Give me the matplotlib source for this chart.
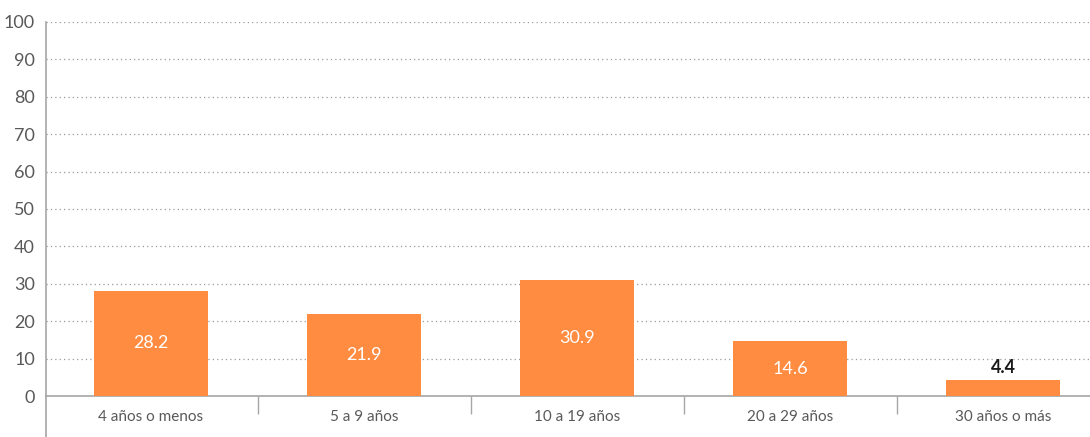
import matplotlib
matplotlib.use("Agg")
import matplotlib.pyplot as plt
from matplotlib.lines import Line2D

categories = ["4 años o menos", "5 a 9 años", "10 a 19 años", "20 a 29 años", "30 años o más"]
values = [28.2, 21.9, 30.9, 14.6, 4.4]
y_ticks = list(range(0, 101, 10))

bar_color = "#FF8C40"
axis_gray = "#A6A6A6"
text_gray = "#595959"

plt.rcParams["font.family"] = ["Lato", "DejaVu Sans"]

fig = plt.figure(figsize=(10.9, 4.37), dpi=100)
ax = fig.add_axes([0.0422, 0.0938, 0.9578, 0.8559])

x = list(range(len(categories)))
bars = ax.bar(x, values, width=0.535, color=bar_color, zorder=3)

x_left, x_right = -0.493, 4.408
ax.set_xlim(x_left, x_right)
ax.set_ylim(0, 100)
ax.set_yticks(y_ticks)
ax.set_yticklabels([str(t) for t in y_ticks], fontsize=13, color=text_gray)
ax.tick_params(axis="y", length=0, pad=8)

# category labels without tick marks; separators drawn between categories
ax.set_xticks(x)
ax.set_xticklabels(categories, fontsize=11, color=text_gray)
ax.tick_params(axis="x", length=0, pad=10)
ax.set_xticks([i + 0.5 for i in x[:-1]], minor=True)
ax.tick_params(axis="x", which="minor", length=13, width=1, color=axis_gray)

ax.yaxis.grid(True, linestyle=(0, (1, 2.5)), color="#9A9A9A", linewidth=0.9, zorder=0)
ax.set_axisbelow(True)

for side in ["top", "right"]:
    ax.spines[side].set_visible(False)
ax.spines["bottom"].set_color(axis_gray)
ax.spines["bottom"].set_linewidth(1.2)
ax.spines["left"].set_color(axis_gray)
ax.spines["left"].set_linewidth(1.2)

# left axis line continues below the category labels
ax.add_line(Line2D([x_left, x_left], [0, -11.5], color=axis_gray, linewidth=1.2,
                   clip_on=False, transform=ax.transData))

for rect, v in zip(bars, values):
    cx = rect.get_x() + rect.get_width() / 2
    if v >= 10:
        ax.text(cx, v / 2, f"{v:.1f}", ha="center", va="center",
                color="white", fontsize=13, zorder=4)
    else:
        ax.text(cx, v + 1.0, f"{v:.1f}", ha="center", va="bottom",
                color="#1A1A1A", fontsize=13, fontweight="bold", zorder=4)

fig.savefig("out.png", dpi=100)
